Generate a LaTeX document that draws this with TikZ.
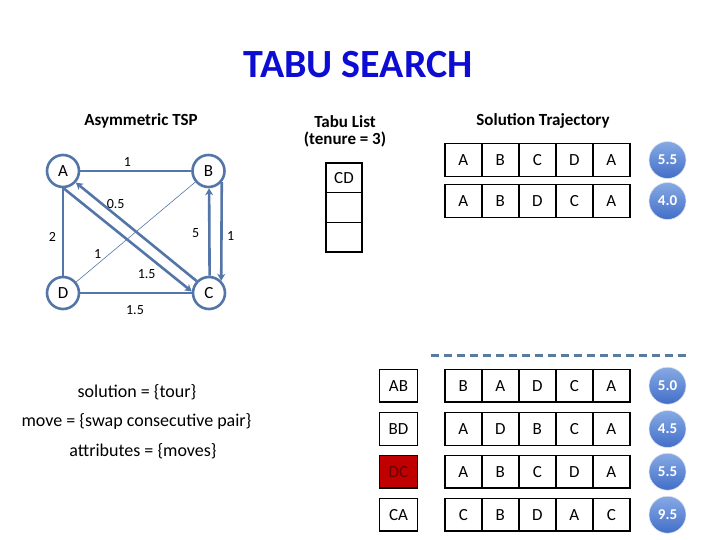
\documentclass[tikz,border=0pt]{standalone}
\usepackage{fontspec}
\setmainfont{Carlito}
\usetikzlibrary{arrows.meta}

\definecolor{graphblue}{RGB}{84,117,168}
\definecolor{dashblue}{RGB}{88,124,158}
\definecolor{titleblue}{RGB}{12,12,210}
\definecolor{tabured}{RGB}{192,0,0}
\definecolor{tabutext}{RGB}{105,0,0}
\definecolor{balltop}{RGB}{135,170,228}
\definecolor{ballbot}{RGB}{66,110,200}
\newcommand\fsz[1]{\fontsize{#1}{#1}\selectfont}

\begin{document}
\begin{tikzpicture}[x=1pt,y=-1pt,
    city/.style={circle,draw=graphblue,line width=2.6pt,minimum size=32pt,
      inner sep=0pt,font=\fsz{17}},
    road/.style={draw=graphblue,line width=1.6pt},
    oneway/.style={draw=graphblue,line width=2.6pt,
      -{Stealth[length=7pt,width=8pt]}},
    wt/.style={font=\fsz{14}},
    cell/.style={draw,line width=1.4pt,minimum width=37pt,
      minimum height=32.5pt,inner sep=0pt,font=\fsz{17}},
    cost/.style={circle,draw=white!80!graphblue,line width=0.6pt,
      top color=balltop,bottom color=ballbot,minimum size=37pt,
      inner sep=0pt,text=white,font=\bfseries\fsz{15}},
    head/.style={font=\bfseries\fsz{17},align=center},
    rule/.style={font=\fsz{18}}]
  \useasboundingbox (0,0) rectangle (720,540);

  % titles
  \node[font=\bfseries\fsz{40},text=titleblue] (title) at (358,65) {TABU SEARCH};
  \node[head] (tsp) at (141,121) {Asymmetric TSP};
  \node[head] (tabu) at (345,131) {Tabu List\\(tenure = 3)};
  \node[head] (traj) at (543,121) {Solution Trajectory};

  % the graph
  \node[city] (A) at (63,171) {A};
  \node[city] (B) at (208.5,171) {B};
  \node[city] (C) at (209,293) {C};
  \node[city] (D) at (63,293) {D};
  \draw[road] (A) -- (B); \draw[road] (A) -- (D); \draw[road] (D) -- (C);
  \draw[draw=graphblue,line width=0.6pt] (D) -- (B);
  \draw[oneway] (A.-88) -- (C.175); \draw[oneway] (C.136) -- (A.-42);
  \draw[oneway] (C.88) -- (B.-88); \draw[oneway] (B.-40) -- (C.45);
  \node[wt] (wab) at (127.3,162) {1};
  \node[wt] (wca) at (115.7,204) {0.5};
  \node[wt] (wad) at (52.3,236.7) {2};
  \node[wt] (wdb) at (97.7,254.3) {1};
  \node[wt] (wcb) at (195.7,233.3) {5};
  \node[wt] (wbc) at (230.7,235.7) {1};
  \node[wt] (wac) at (146.7,274.3) {1.5};
  \node[wt] (wdc) at (135,310) {1.5};

  % tabu list
  \node[cell,minimum width=36pt,minimum height=29.6pt] (tl1) at (344,178) {CD};
  \node[cell,minimum width=36pt,minimum height=29.6pt] (tl2) at (344,207.6) {};
  \node[cell,minimum width=36pt,minimum height=29.6pt] (tl3) at (344,237.2) {};

  % trajectory so far
  \foreach \r/\y/\c/\tour in {1/160/5.5/{A,B,C,D,A},2/201/4.0/{A,B,D,C,A}} {
    \foreach \t [count=\i] in \tour
      \node[cell] (s\r-\i) at (426.3+37*\i,\y) {\t};
    \node[cost] (sc\r) at (667.5,\y) {\c};
  }

  \draw[dashblue,line width=3pt,dash pattern=on 8pt off 5pt] (430.7,355) -- (686.7,355);

  % neighbourhood
  \foreach \r/\y/\mv/\c/\tour in {1/385.7/AB/5.0/{B,A,D,C,A},
      2/429/BD/4.5/{A,D,B,C,A},3/471.7/DC/5.5/{A,B,C,D,A},
      4/514.7/CA/9.5/{C,B,D,A,C}} {
    \node[cell,minimum width=38.4pt] (m\r) at (398.5,\y) {\mv};
    \foreach \t [count=\i] in \tour
      \node[cell] (n\r-\i) at (426.3+37*\i,\y) {\t};
    \node[cost] (nc\r) at (667.5,\y) {\c};
  }
  \node[cell,minimum width=38.4pt,fill=tabured,text=tabutext] (m3) at (398.5,471.7) {DC};

  % problem setup
  \node[rule] (sol) at (137,392.7) {solution = \{tour\}};
  \node[rule] (mov) at (136.5,421.7) {move = \{swap consecutive pair\}};
  \node[rule] (att) at (143,451.7) {attributes = \{moves\}};
\end{tikzpicture}
\end{document}
